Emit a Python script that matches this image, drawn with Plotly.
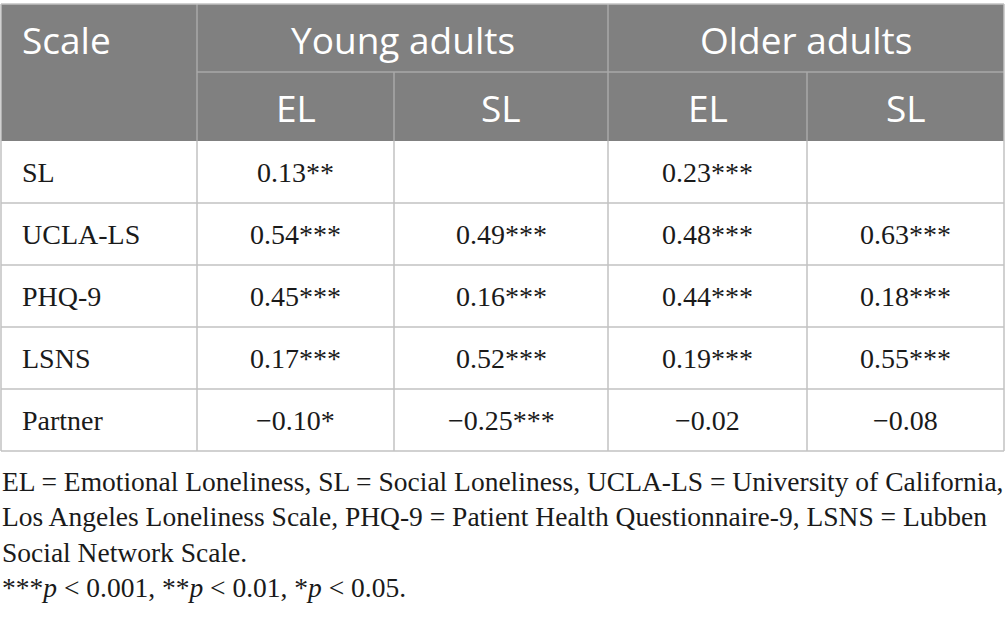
import plotly.graph_objects as go

# table content
scales = ["SL", "UCLA-LS", "PHQ-9", "LSNS", "Partner"]
young_el = ["0.13**", "0.54***", "0.45***", "0.17***", "\u22120.10*"]
young_sl = ["", "0.49***", "0.16***", "0.52***", "\u22120.25***"]
older_el = ["0.23***", "0.48***", "0.44***", "0.19***", "\u22120.02"]
older_sl = ["", "0.63***", "0.18***", "0.55***", "\u22120.08"]
groups = ["Young adults", "Older adults"]
sub_heads = ["EL", "SL", "EL", "SL"]
footnote = [
    "EL = Emotional Loneliness, SL = Social Loneliness, UCLA-LS = University of California,",
    "Los Angeles Loneliness Scale, PHQ-9 = Patient Health Questionnaire-9, LSNS = Lubben",
    "Social Network Scale.",
]
# significance note: (stars, threshold)
sig_levels = [("***", "0.001"), ("**", "0.01"), ("*", "0.05")]

# layout geometry (pixels)
W, H = 1005, 618
col_x = [1, 197, 394, 608, 807, 1004]
top, mid, head_bot = 4, 72, 141
row_h = 62
HEAD_BG = "#808080"
GRID = "#c2c2c2"
HEAD_LINE = "#a9a9a9"
SANS = "Open Sans"
SERIF = "Liberation Serif"
INK = "#1a1a1a"

fig = go.Figure()
fig.add_trace(go.Scatter(x=[0, W], y=[0, H], mode="markers", marker=dict(opacity=0),
                         hoverinfo="skip", showlegend=False))

shapes = []
annots = []

# header background
shapes.append(dict(type="rect", x0=col_x[0], x1=col_x[-1], y0=top, y1=head_bot,
                   fillcolor=HEAD_BG, line=dict(width=0), layer="below"))
# header lines
shapes.append(dict(type="line", x0=col_x[1], x1=col_x[-1], y0=mid, y1=mid,
                   line=dict(color=HEAD_LINE, width=1.5)))
for i, cx in enumerate(col_x[1:-1]):
    y0 = top if i % 2 == 0 else mid
    shapes.append(dict(type="line", x0=cx, x1=cx, y0=y0, y1=head_bot,
                       line=dict(color=HEAD_LINE, width=1.5)))

# header text
annots.append(dict(x=20, y=(top + mid) / 2 + 1, text="Scale", xanchor="left",
                   font=dict(family=SANS, size=37, color="white")))
for g, name in enumerate(groups):
    cx = (col_x[1 + 2 * g] + col_x[3 + 2 * g]) / 2
    annots.append(dict(x=cx, y=(top + mid) / 2 + 1, text=name,
                       font=dict(family=SANS, size=37, color="white")))
for j, name in enumerate(sub_heads):
    cx = (col_x[1 + j] + col_x[2 + j]) / 2
    annots.append(dict(x=cx, y=(mid + head_bot) / 2 + 1, text=name,
                       font=dict(family=SANS, size=37, color="white")))

# body rows
columns = [young_el, young_sl, older_el, older_sl]
n = len(scales)
body_bot = head_bot + n * row_h
for r in range(n):
    yc = head_bot + row_h * (r + 0.5)
    annots.append(dict(x=20, y=yc, text=scales[r], xanchor="left",
                       font=dict(family=SERIF, size=28, color=INK)))
    for j, col in enumerate(columns):
        cx = (col_x[1 + j] + col_x[2 + j]) / 2
        annots.append(dict(x=cx, y=yc, text=col[r],
                           font=dict(family=SERIF, size=28, color=INK)))
    yb = head_bot + row_h * (r + 1)
    shapes.append(dict(type="line", x0=col_x[0], x1=col_x[-1], y0=yb, y1=yb,
                       line=dict(color=GRID, width=1.5)))
for cx in col_x:
    y0 = top if cx in (col_x[0], col_x[-1]) else head_bot
    shapes.append(dict(type="line", x0=cx, x1=cx, y0=y0, y1=body_bot,
                       line=dict(color=GRID, width=1.5)))
shapes.append(dict(type="line", x0=col_x[0], x1=col_x[-1], y0=top, y1=top,
                   line=dict(color=GRID, width=1.5)))

# footnote
sig_line = ", ".join(f"{s}<i>p</i> < {t}" for s, t in sig_levels) + "."
for k, line in enumerate(footnote + [sig_line]):
    annots.append(dict(x=0, y=481 + 35.5 * k, text=line, xanchor="left",
                       font=dict(family=SERIF, size=27.5, color=INK)))

for a in annots:
    a.update(xref="x", yref="y", showarrow=False, yanchor="middle")

fig.update_layout(
    width=W, height=H,
    margin=dict(l=0, r=0, t=0, b=0),
    paper_bgcolor="white", plot_bgcolor="white",
    xaxis=dict(range=[0, W], visible=False, fixedrange=True),
    yaxis=dict(range=[H, 0], visible=False, fixedrange=True),
    shapes=shapes, annotations=annots,
)

fig.write_html("out.html", config={"displayModeBar": False},
               post_script="document.body.style.margin='0';")
